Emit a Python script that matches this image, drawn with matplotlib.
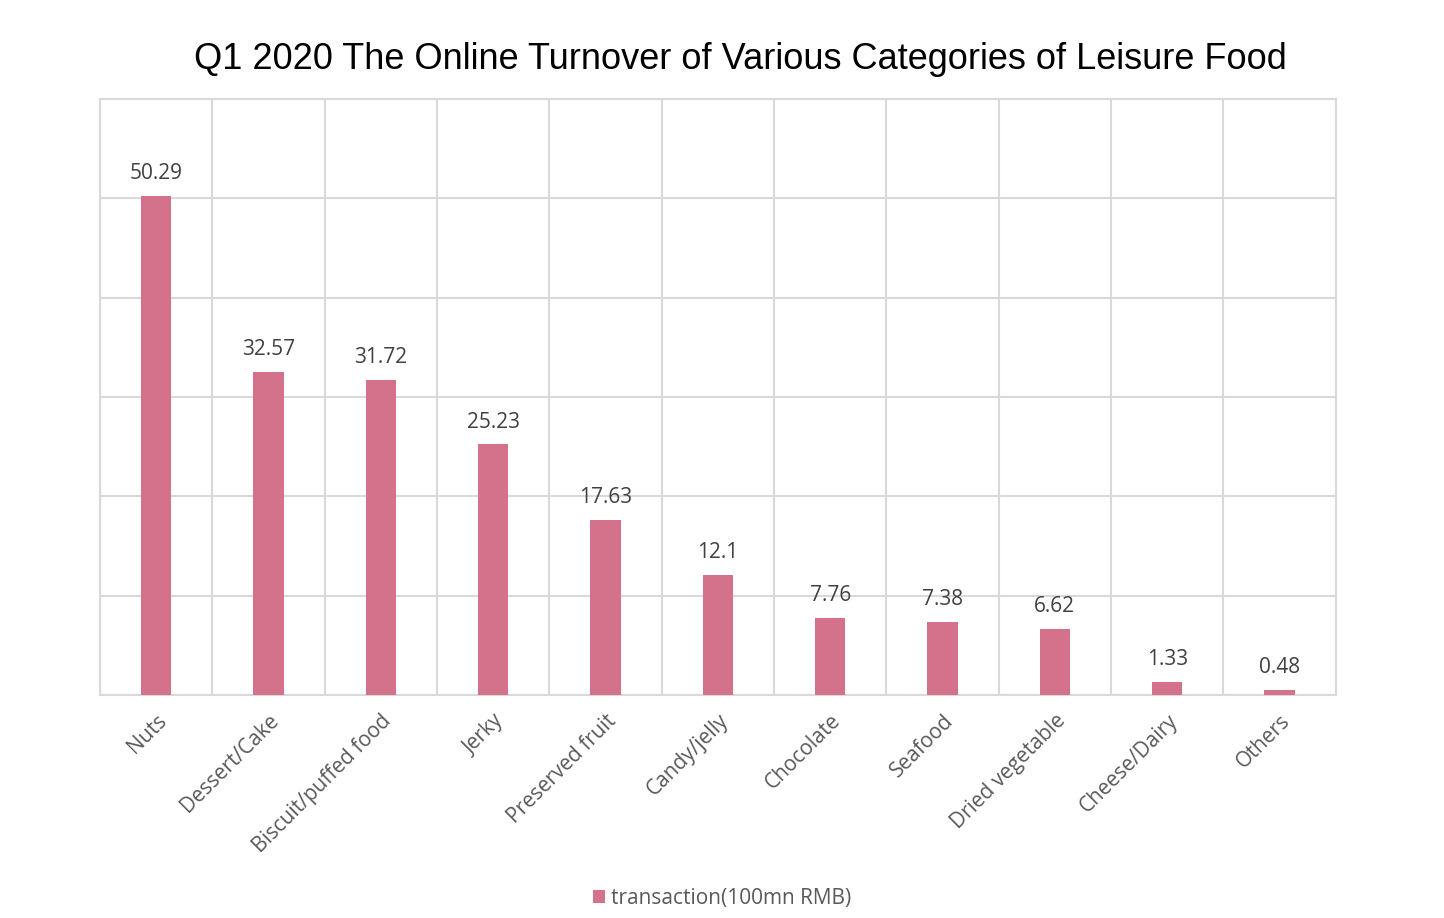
import matplotlib.pyplot as plt
import numpy as np

categories = ['Nuts', 'Dessert/Cake', 'Biscuit/puffed food', 'Jerky', 'Preserved fruit',
              'Candy/jelly', 'Chocolate', 'Seafood', 'Dried vegetable', 'Cheese/Dairy', 'Others']
values = [50.29, 32.57, 31.72, 25.23, 17.63, 12.1, 7.76, 7.38, 6.62, 1.33, 0.48]
labels = ['50.29', '32.57', '31.72', '25.23', '17.63', '12.1', '7.76', '7.38', '6.62', '1.33', '0.48']

bar_color = '#D5728B'
grid_color = '#D9D9D9'
text_color = '#404040'

fig = plt.figure(figsize=(14.44, 9.18), dpi=100)
ax = fig.add_axes([0.0693, 0.2429, 0.8557, 0.6491])

x = np.arange(len(categories))
bars = ax.bar(x, values, width=0.27, color=bar_color, zorder=3,
              label='transaction(100mn RMB)')

# valeurs au-dessus des barres
for xi, v, lab in zip(x, values, labels):
    ax.text(xi, v + 1.2, lab, ha='center', va='bottom', fontsize=15,
            family='Open Sans', color=text_color)

ax.set_xlim(-0.5, len(categories) - 0.5)
ax.set_ylim(0, 60)
ax.set_yticks(np.arange(0, 61, 10))
ax.set_yticklabels([])
ax.set_xticks(np.arange(-0.5, len(categories), 1))
ax.set_xticklabels([])
ax.tick_params(axis='both', length=0)
ax.grid(True, color=grid_color, linewidth=1.5, zorder=0)

ax.set_xticks(x, minor=True)
ax.set_xticklabels(categories, minor=True, rotation=45, ha='right',
                   rotation_mode='anchor', fontsize=15, family='Open Sans',
                   color='#595959')
ax.tick_params(axis='x', which='minor', length=0, pad=11)

for s in ax.spines.values():
    s.set_color(grid_color)
    s.set_linewidth(1.5)

fig.suptitle('Q1 2020 The Online Turnover of Various Categories of Leisure Food',
             x=0.513, y=0.954, fontsize=26, family='Liberation Sans', color='black')

fig.legend(handles=[bars], loc='center', bbox_to_anchor=(0.5, 0.021), frameon=False,
           prop={'family': 'Open Sans', 'size': 15}, labelcolor='#595959',
           handlelength=0.6, handleheight=0.6, handletextpad=0.3)

fig.savefig('out.png', dpi=100, facecolor='white')
